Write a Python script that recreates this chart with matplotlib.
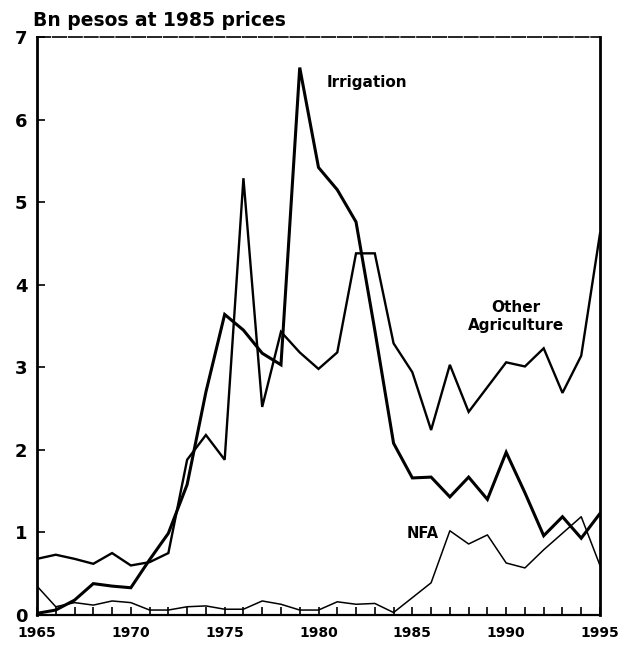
import matplotlib.pyplot as plt
import numpy as np
from matplotlib.ticker import MultipleLocator

years = list(range(1965, 1996))

irrigation = [0.02, 0.06, 0.18, 0.38, 0.35, 0.33, 0.67, 0.99, 1.58, 2.7,
              3.64, 3.45, 3.17, 3.03, 6.63, 5.42, 5.15, 4.76, 3.45, 2.08,
              1.66, 1.67, 1.43, 1.67, 1.40, 1.97, 1.48, 0.96, 1.19, 0.93,
              1.23]

other_agri = [0.68, 0.73, 0.68, 0.62, 0.75, 0.60, 0.64, 0.75, 1.88, 2.18,
              1.88, 5.29, 2.52, 3.43, 3.18, 2.98, 3.18, 4.38, 4.38, 3.29,
              2.94, 2.24, 3.03, 2.46, 2.76, 3.06, 3.01, 3.23, 2.69, 3.14,
              4.62]

nfa = [0.35, 0.10, 0.15, 0.12, 0.17, 0.15, 0.06, 0.06, 0.10, 0.11,
       0.07, 0.07, 0.17, 0.13, 0.06, 0.06, 0.16, 0.13, 0.14, 0.03,
       0.21, 0.39, 1.02, 0.86, 0.97, 0.63, 0.57, 0.79, 0.99, 1.19,
       0.60]

font = "DejaVu Sans"

fig = plt.figure(figsize=(6.3, 6.46), dpi=100)
ax = fig.add_axes([37 / 630, 1 - 615 / 646, 563 / 630, 578 / 646])

ax.plot(years, other_agri, color="black", lw=1.7, solid_joinstyle="miter")
ax.plot(years, irrigation, color="black", lw=2.2, solid_joinstyle="miter")
ax.plot(years, nfa, color="black", lw=1.1)

ax.set_xlim(1965, 1995)
ax.set_ylim(0, 7)
ax.xaxis.set_major_locator(MultipleLocator(5))
ax.xaxis.set_minor_locator(MultipleLocator(1))
ax.yaxis.set_major_locator(MultipleLocator(1))

ax.tick_params(axis="x", which="both", direction="in", length=6, width=1.2, pad=8)
ax.tick_params(axis="y", direction="in", length=6, width=1.2, pad=7)
for lab in ax.get_xticklabels():
    lab.set_fontfamily(font)
    lab.set_fontweight("bold")
    lab.set_fontsize(10)
for lab in ax.get_yticklabels():
    lab.set_fontfamily(font)
    lab.set_fontweight("bold")
    lab.set_fontsize(13)

ax.spines["left"].set_linewidth(2.0)
ax.spines["right"].set_linewidth(2.0)
ax.spines["bottom"].set_linewidth(1.6)
ax.spines["top"].set_linewidth(1.2)
ax.spines["top"].set_linestyle((0, (8, 1.5)))

ax.text(1982.6, 6.45, "Irrigation", family=font, weight="bold", fontsize=11,
        ha="center", va="center")
ax.text(1990.5, 3.61, "Other\nAgriculture", family=font, weight="bold",
        fontsize=11, ha="center", va="center", linespacing=1.25)
ax.text(1985.56, 0.99, "NFA", family=font, weight="bold", fontsize=10.5,
        ha="center", va="center")

fig.text(33 / 630, 1 - 26 / 646, "Bn pesos at 1985 prices", family=font,
         weight="bold", fontsize=13.5, ha="left", va="baseline")

fig.savefig("out.png", dpi=100)
